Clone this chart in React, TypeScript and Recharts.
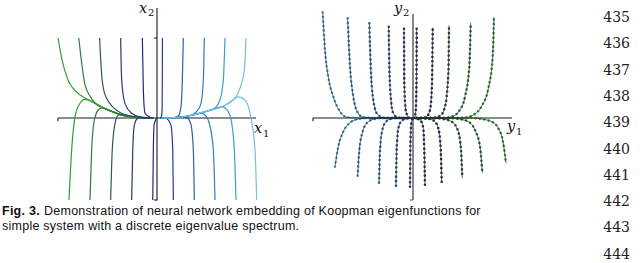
import React from "react";
import { LineChart, Line, XAxis, YAxis, ReferenceLine } from "recharts";

type Pt = [number, number];

// left panel: trajectories in (x1, x2), ordered left to right
const leftUpper: Pt[][] = [
  [[-1.0, 1.0], [-0.96, 0.73], [-0.9, 0.48], [-0.8, 0.31], [-0.69, 0.225], [-0.53, 0.12], [-0.36, 0.04], [-0.16, 0.005], [-0.04, 0]],
  [[-0.79, 1.0], [-0.76, 0.68], [-0.73, 0.43], [-0.67, 0.26], [-0.6, 0.16], [-0.53, 0.12], [-0.36, 0.04], [-0.16, 0.005], [-0.04, 0]],
  [[-0.58, 1.0], [-0.56, 0.56], [-0.53, 0.31], [-0.48, 0.19], [-0.44, 0.13], [-0.36, 0.06], [-0.25, 0.02], [-0.12, 0.003], [-0.04, 0]],
  [[-0.367, 1.0], [-0.357, 0.475], [-0.323, 0.18], [-0.256, 0.06], [-0.16, 0.01], [-0.04, 0]],
  [[-0.148, 1.0], [-0.138, 0.35], [-0.121, 0.06], [-0.07, 0.01], [-0.03, 0]],
  [[0.03, 0], [0.045, 0.02], [0.052, 0.12], [0.054, 0.5], [0.055, 1.0]],
  [[0.04, 0], [0.165, 0.003], [0.215, 0.025], [0.242, 0.14], [0.256, 0.475], [0.266, 1.0]],
  [[0.04, 0], [0.15, 0.003], [0.316, 0.025], [0.4, 0.08], [0.444, 0.18], [0.468, 0.475], [0.478, 1.0]],
  [[0.04, 0], [0.15, 0.003], [0.316, 0.025], [0.485, 0.08], [0.579, 0.12], [0.636, 0.225], [0.67, 0.475], [0.687, 1.0]],
  [[0.04, 0], [0.148, 0.003], [0.316, 0.025], [0.485, 0.08], [0.687, 0.16], [0.771, 0.225], [0.838, 0.37], [0.882, 0.6], [0.899, 1.0]],
];

const leftLower: Pt[][] = [
  [[-0.889, -1.025], [-0.862, -0.4], [-0.828, 0.016], [-0.778, 0.184], [-0.727, 0.234], [-0.69, 0.225], [-0.53, 0.12], [-0.36, 0.04], [-0.16, 0.005], [-0.04, 0]],
  [[-0.677, -1.025], [-0.66, -0.4], [-0.633, -0.025], [-0.593, 0.1], [-0.559, 0.125], [-0.5, 0.105], [-0.36, 0.04], [-0.16, 0.005], [-0.04, 0]],
  [[-0.468, -1.025], [-0.452, -0.4], [-0.424, -0.066], [-0.391, 0.035], [-0.36, 0.045], [-0.25, 0.02], [-0.16, 0.005], [-0.04, 0]],
  [[-0.256, -1.025], [-0.245, -0.4], [-0.229, -0.088], [-0.205, -0.016], [-0.17, 0.004], [-0.1, 0.002], [-0.04, 0]],
  [[-0.043, -1.025], [-0.037, -0.4], [-0.03, -0.088], [-0.013, -0.025], [-0.005, 0]],
  [[0.03, 0], [0.08, 0.002], [0.114, -0.025], [0.141, -0.088], [0.159, -0.4], [0.165, -1.025]],
  [[0.04, 0], [0.148, 0.002], [0.25, 0.013], [0.3, 0.005], [0.34, -0.066], [0.367, -0.4], [0.377, -1.025]],
  [[0.04, 0], [0.148, 0.002], [0.316, 0.025], [0.44, 0.06], [0.48, 0.045], [0.528, -0.066], [0.569, -0.4], [0.586, -1.025]],
  [[0.04, 0], [0.148, 0.002], [0.316, 0.025], [0.485, 0.075], [0.6, 0.125], [0.66, 0.14], [0.71, 0.1], [0.745, 0.0], [0.781, -0.4], [0.798, -1.025]],
  [[0.04, 0], [0.148, 0.002], [0.316, 0.025], [0.485, 0.08], [0.687, 0.16], [0.76, 0.22], [0.82, 0.265], [0.889, 0.225], [0.939, 0.06], [0.99, -0.4], [1.007, -1.025]],
];

const leftColors = ["#2ca02c", "#2f7a3c", "#2a5c52", "#223f6e", "#1c2b82", "#243d92", "#2d62a6", "#2f80b8", "#3a9ecc", "#74c0de"];

// right panel: the same trajectories in the embedding (y1, y2)
const rightUpper: Pt[][] = [
  [[-0.912, 1.32], [-0.889, 0.85], [-0.856, 0.516], [-0.805, 0.266], [-0.737, 0.079], [-0.67, 0.009], [-0.55, 0], [-0.04, 0]],
  [[-0.66, 1.246], [-0.636, 0.641], [-0.603, 0.266], [-0.563, 0.079], [-0.502, 0.009], [-0.4, 0], [-0.04, 0]],
  [[-0.441, 1.184], [-0.427, 0.641], [-0.401, 0.225], [-0.361, 0.05], [-0.3, 0.003], [-0.22, 0], [-0.03, 0]],
  [[-0.245, 1.141], [-0.239, 0.641], [-0.222, 0.225], [-0.199, 0.059], [-0.148, 0.003], [-0.1, 0], [-0.02, 0]],
  [[-0.091, 1.116], [-0.088, 0.434], [-0.071, 0.079], [-0.037, 0.003], [-0.01, 0]],
  [[0.005, 0], [0.013, 0.003], [0.027, 0.079], [0.035, 0.434], [0.037, 1.116]],
  [[0.03, 0], [0.09, 0], [0.131, 0.009], [0.172, 0.1], [0.192, 0.434], [0.199, 1.129]],
  [[0.04, 0], [0.15, 0], [0.205, 0.003], [0.273, 0.025], [0.323, 0.141], [0.357, 0.559], [0.364, 1.159]],
  [[0.04, 0], [0.3, 0], [0.391, 0.016], [0.468, 0.091], [0.525, 0.266], [0.569, 0.641], [0.583, 1.191]],
  [[0.04, 0], [0.42, 0], [0.525, 0.004], [0.609, 0.0375], [0.694, 0.15], [0.761, 0.371], [0.805, 0.766], [0.818, 1.259]],
];

const rightLower: Pt[][] = [
  [[-0.788, -0.609], [-0.755, -0.359], [-0.704, -0.171], [-0.636, -0.059], [-0.553, -0.0125], [-0.45, 0], [-0.04, 0]],
  [[-0.559, -0.721], [-0.542, -0.4], [-0.508, -0.171], [-0.468, -0.066], [-0.401, -0.016], [-0.32, 0], [-0.04, 0]],
  [[-0.343, -0.809], [-0.333, -0.4], [-0.31, -0.15], [-0.273, -0.046], [-0.225, -0.0125], [-0.16, 0], [-0.03, 0]],
  [[-0.172, -0.846], [-0.165, -0.4], [-0.148, -0.129], [-0.114, -0.034], [-0.071, -0.009], [-0.015, 0]],
  [[-0.03, -0.859], [-0.027, -0.4], [-0.02, -0.11], [-0.01, -0.02], [-0.003, 0]],
  [[0.01, 0], [0.043, -0.009], [0.078, -0.034], [0.104, -0.129], [0.114, -0.4], [0.121, -0.8375]],
  [[0.03, 0], [0.155, -0.009], [0.212, -0.034], [0.256, -0.129], [0.28, -0.4], [0.29, -0.809]],
  [[0.04, 0], [0.22, 0], [0.306, -0.0125], [0.391, -0.046], [0.452, -0.15], [0.485, -0.4], [0.498, -0.754]],
  [[0.04, 0], [0.38, 0], [0.468, -0.0125], [0.559, -0.046], [0.626, -0.15], [0.677, -0.359], [0.7, -0.684]],
  [[0.04, 0], [0.6, 0], [0.694, -0.0125], [0.795, -0.046], [0.862, -0.129], [0.912, -0.316], [0.939, -0.566]],
];

const rightColors = ["#45a6d4", "#3289c2", "#2a6ca8", "#244f90", "#1e3278", "#1b2668", "#1c2c58", "#1f4d3c", "#1f7a2e", "#25a12c"];

const lineNumbers = [435, 436, 437, 438, 439, 440, 441, 442, 443, 444];

const captionBold = "Fig. 3.";
const captionLine1 = "Demonstration of neural network embedding of Koopman eigenfunctions for";
const captionLine2 = "simple system with a discrete eigenvalue spectrum.";

const X_DOMAIN: [number, number] = [-1.0505, 1.0505];
const Y_DOMAIN: [number, number] = [-1.0375, 1.3875];
const CW = 208;
const CH = 194;

const toRows = (pts: Pt[]) =>
  pts.slice().sort((a, b) => a[0] - b[0]).map(([x, y]) => ({ x, y }));

const axisProps = { stroke: "#1a1a1a", strokeWidth: 1.1, ifOverflow: "visible" as const };

function LeftPanel() {
  const curves = [...leftUpper.map((c, i) => ({ c, i, k: "u" })), ...leftLower.map((c, i) => ({ c, i, k: "l" }))];
  return (
    <LineChart width={CW} height={CH} margin={{ top: 0, right: 0, bottom: 0, left: 0 }}>
      <XAxis type="number" dataKey="x" domain={X_DOMAIN} hide allowDataOverflow />
      <YAxis type="number" dataKey="y" domain={Y_DOMAIN} hide allowDataOverflow />
      <ReferenceLine segment={[{ x: -1, y: 0 }, { x: 1, y: 0 }]} {...axisProps} />
      <ReferenceLine segment={[{ x: -1, y: 0 }, { x: -1, y: -0.04 }]} {...axisProps} />
      <ReferenceLine segment={[{ x: 0, y: 1.375 }, { x: 0, y: -1.03 }]} {...axisProps} />
      <ReferenceLine segment={[{ x: -0.03, y: 1 }, { x: 0, y: 1 }]} {...axisProps} />
      <ReferenceLine segment={[{ x: -0.03, y: -1.025 }, { x: 0, y: -1.025 }]} {...axisProps} />
      {curves.map(({ c, i, k }) => (
        <Line
          key={k + i}
          data={toRows(c)}
          dataKey="y"
          type="monotone"
          stroke={leftColors[i]}
          strokeWidth={1.2}
          dot={false}
          activeDot={false}
          isAnimationActive={false}
        />
      ))}
    </LineChart>
  );
}

function RightPanel() {
  const curves = [...rightUpper.map((c, i) => ({ c, i, k: "u" })), ...rightLower.map((c, i) => ({ c, i, k: "l" }))];
  return (
    <LineChart width={CW} height={CH} margin={{ top: 0, right: 0, bottom: 0, left: 0 }}>
      <XAxis type="number" dataKey="x" domain={X_DOMAIN} hide allowDataOverflow />
      <YAxis type="number" dataKey="y" domain={Y_DOMAIN} hide allowDataOverflow />
      <ReferenceLine segment={[{ x: -1.01, y: 0 }, { x: 1.0, y: 0 }]} {...axisProps} />
      <ReferenceLine segment={[{ x: -1.01, y: 0 }, { x: -1.01, y: -0.04 }]} {...axisProps} />
      <ReferenceLine segment={[{ x: 0, y: 1.3 }, { x: 0, y: -1.025 }]} {...axisProps} stroke="#555" strokeWidth={1.4} />
      <ReferenceLine segment={[{ x: -0.03, y: -1.025 }, { x: 0, y: -1.025 }]} {...axisProps} stroke="#555" />
      {curves.map(({ c, i, k }) => (
        <Line
          key={"d" + k + i}
          data={toRows(c)}
          dataKey="y"
          type="monotone"
          stroke={rightColors[i]}
          strokeWidth={2.6}
          strokeDasharray="0 4.5"
          strokeLinecap="round"
          dot={false}
          activeDot={false}
          isAnimationActive={false}
        />
      ))}
      {curves.map(({ c, i, k }) => (
        <Line
          key={"l" + k + i}
          data={toRows(c)}
          dataKey="y"
          type="monotone"
          stroke="#2a2a2a"
          strokeWidth={0.7}
          dot={false}
          activeDot={false}
          isAnimationActive={false}
        />
      ))}
    </LineChart>
  );
}

const serif = "DejaVu Serif";
const sans = "Liberation Sans";

export default function App() {
  return (
    <div style={{ position: "absolute", left: 0, top: 0, width: 640, height: 263, background: "#fff", overflow: "hidden" }}>
      <div style={{ position: "absolute", left: 53, top: 7 }}>
        <LeftPanel />
      </div>
      <div style={{ position: "absolute", left: 309, top: 7 }}>
        <RightPanel />
      </div>
      <svg width={640} height={263} style={{ position: "absolute", left: 0, top: 0, pointerEvents: "none" }}>
        <g fill="#111">
          <text x={139} y={13} fontFamily={serif} fontSize={14.5} fontStyle="italic">x</text>
          <text x={148} y={16} fontFamily={serif} fontSize={10}>2</text>
          <text x={254} y={133} fontFamily={serif} fontSize={14.5} fontStyle="italic">x</text>
          <text x={263} y={137} fontFamily={serif} fontSize={10}>1</text>
          <text x={394} y={13} fontFamily={serif} fontSize={14.5} fontStyle="italic">y</text>
          <text x={403} y={16} fontFamily={serif} fontSize={10}>2</text>
          <text x={507} y={131} fontFamily={serif} fontSize={14.5} fontStyle="italic">y</text>
          <text x={516} y={135} fontFamily={serif} fontSize={10}>1</text>
        </g>
        <g fontFamily={sans} fontSize={12.5} letterSpacing={0.25} fill="#111">
          <text x={2} y={215.3} fontWeight="bold">{captionBold}</text>
          <text x={44} y={215.3}>{captionLine1}</text>
          <text x={2} y={229.7}>{captionLine2}</text>
        </g>
        <g fontFamily={serif} fontSize={14} fill="#222" textAnchor="end">
          {lineNumbers.map((n, i) => (
            <text key={n} x={630} y={22 + i * 26.3}>{n}</text>
          ))}
        </g>
      </svg>
    </div>
  );
}
